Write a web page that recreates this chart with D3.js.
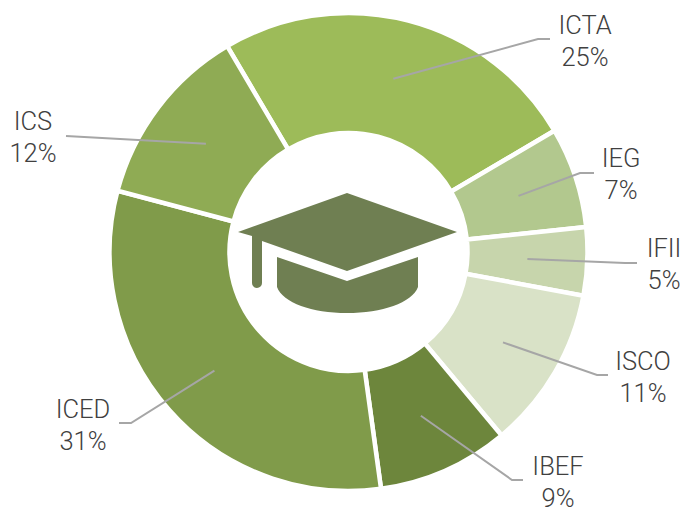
<!DOCTYPE html>
<meta charset="utf-8">
<style>
html, body { margin: 0; background: #fff; }
svg { display: block; }
text { font-family: Roboto, sans-serif; font-weight: 300; font-size: 25.5px; fill: #404040; }
.leader { fill: none; stroke: #a6a6a6; stroke-width: 2px; }
.slice { stroke: #fff; stroke-width: 4.5px; }
.cap { fill: #6f7f52; }
</style>
<svg></svg>
<script src="https://cdn.jsdelivr.net/npm/d3@7"></script>
<script>

var categories = ["ICTA", "IEG", "IFII", "ISCO", "IBEF", "ICED", "ICS"];
var shares = [25.0, 6.8, 4.6, 11.0, 8.9, 31.3, 12.4];
var colors = ["#9dbb59", "#b2c88e", "#c7d5ac", "#d9e2c7", "#6d863c", "#809b4a", "#8fab54"];

// label centre, then elbow of the leader and where it stops
var labelSpots = [
  { x: 585, y: 42, elbow: [538, 39], end: [550, 39] },
  { x: 621, y: 175, elbow: [580, 173], end: [594, 173] },
  { x: 664, y: 265, elbow: [625, 263], end: [637, 263] },
  { x: 643, y: 378, elbow: [597, 375], end: [608, 375] },
  { x: 558, y: 483, elbow: [512, 480], end: [523, 480] },
  { x: 83, y: 426, elbow: [131, 423], end: [119, 423] },
  { x: 33, y: 138, elbow: [66, 136], end: [66, 136] }
];

var width = 684,
    height = 509,
    cx = 348.5,
    cy = 252,
    outerR = 239,
    innerR = 119;

var svg = d3.select("svg")
    .attr("width", width)
    .attr("height", height);

var g = svg.append("g")
    .attr("transform", "translate(" + cx + "," + cy + ")");

var rad = Math.PI / 180;

var pie = d3.pie()
    .sort(null)
    .startAngle(-30.5 * rad)
    .endAngle(329.5 * rad);

var arc = d3.arc()
    .innerRadius(innerR)
    .outerRadius(outerR);

var arcs = pie(shares);

g.selectAll("path.slice")
    .data(arcs)
    .enter().append("path")
    .attr("class", "slice")
    .attr("fill", function(d, i) { return colors[i]; })
    .attr("d", arc);

var line = d3.line();

svg.selectAll("path.leader")
    .data(arcs)
    .enter().append("path")
    .attr("class", "leader")
    .attr("d", function(d, i) {
      var c = arc.centroid(d);
      var spot = labelSpots[i];
      return line([[c[0] + cx, c[1] + cy], spot.elbow, spot.end]);
    });

var labels = svg.selectAll("text.label")
    .data(arcs)
    .enter().append("text")
    .attr("class", "label")
    .attr("text-anchor", "middle")
    .attr("transform", function(d, i) {
      return "translate(" + labelSpots[i].x + "," + labelSpots[i].y + ")";
    });

labels.append("tspan")
    .attr("x", 0)
    .attr("y", -8)
    .text(function(d, i) { return categories[i]; });

labels.append("tspan")
    .attr("x", 0)
    .attr("y", 24)
    .text(function(d) { return Math.round(d.value) + "%"; });

// graduation cap in the hole
var cap = svg.append("g").attr("class", "cap");

cap.append("path")
    .attr("d", "M347,193 L457,232 L347,271 L262,241 L262,283 A5,5 0 0 1 252,283 L252,236 L238,232 Z");

cap.append("path")
    .attr("d", "M277,257 L347,281 L418,257 L418,287 C412,303 382,313 347,313 C312,313 283,303 277,287 Z");

</script>
